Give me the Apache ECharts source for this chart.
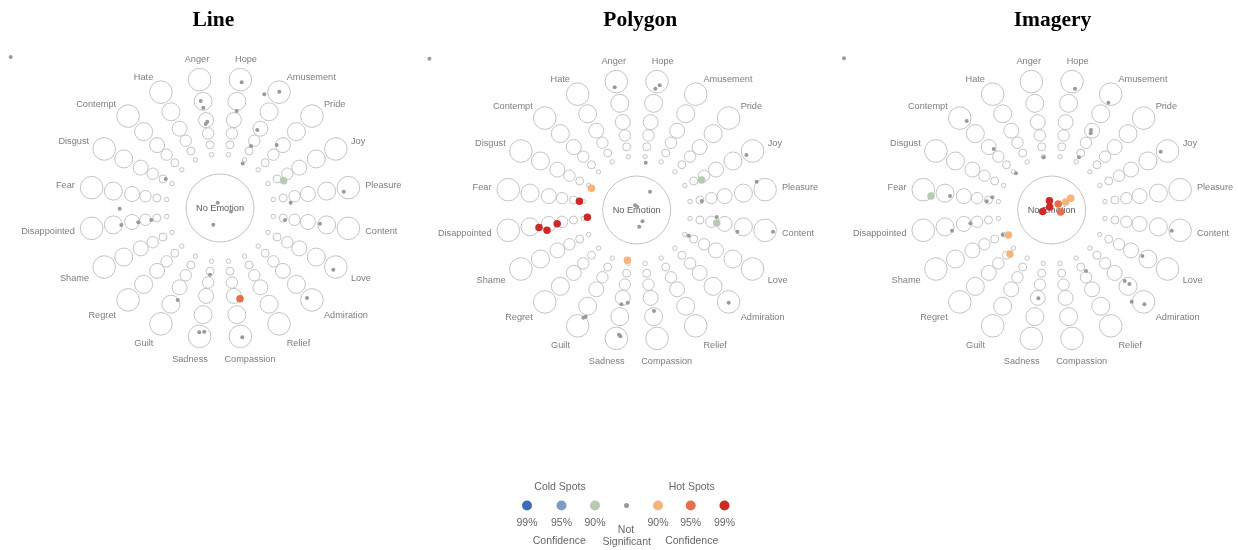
<!DOCTYPE html>
<html>
<head>
<meta charset="utf-8">
<script src="https://cdn.jsdelivr.net/npm/echarts@6/dist/echarts.min.js"></script>
<style>
  html, body { margin: 0; padding: 0; background: #ffffff; }
  #chart { width: 1238px; height: 550px; }
</style>
</head>
<body>
<div id="chart"></div>
<script>
// ---- data -------------------------------------------------------------
const panelTitles = ['Line', 'Polygon', 'Imagery'];

// Emotion families, clockwise from the top of the wheel
const emotions = ['Hope', 'Amusement', 'Pride', 'Joy', 'Pleasure', 'Content', 'Love',
  'Admiration', 'Relief', 'Compassion', 'Sadness', 'Guilt', 'Regret', 'Shame',
  'Disappointed', 'Fear', 'Disgust', 'Contempt', 'Hate', 'Anger'];
const centreLabel = 'No Emotion';

// Significance classes: -3..-1 cold spots, 0 not significant, 1..3 hot spots
const significanceLevels = [-3, -2, -1, 0, 1, 2, 3];
const confidenceLabels = ['99%', '95%', '90%', 'Not Significant', '90%', '95%', '99%'];

// Hot-spot results in wheel coordinates: [x, y, significance]
const lineSpots = [
  [-209.3, 151, 0], [21.7, 125.7, 0], [-19.3, 107, 0], [-16.7, 100.3, 0], [-12.7, 86.3, 0],
  [-14.3, 84, 0], [16.7, 97, 0], [59.3, 116.3, 0], [44.3, 113.7, 0], [37.3, 78, 0],
  [31, 62, 0], [22.7, 44.5, 0], [56.7, 63, 0], [63.7, 27.3, -1], [123.7, 16.3, 0],
  [70.7, 5.3, 0], [65, -12, 0], [100, -15.7, 0], [113.3, -61.7, 0], [87, -90, 0],
  [22.3, -129.3, 0], [20, -90.7, 2], [-20.7, -124.3, 0], [-15.7, -123.7, 0], [-10, -66.7, 0],
  [-42.3, -92, 0], [-98.7, -17, 0], [-81.7, -14.3, 0], [-68.7, -12, 0], [-100.3, -0.7, 0],
  [-54.3, 29, 0], [-2.3, 5.2, 0], [11, -3.5, 0], [-6.7, -16.7, 0]
];
const polygonSpots = [
  [-207.3, 151.3, 0], [-22, 122.7, 0], [18.7, 121.3, 0], [23, 124.7, 0], [9, 47.3, 0],
  [109.7, 55, 0], [65, 30, -1], [120, 28.3, 0], [65, 9, 0], [80, -13, -1],
  [80, -7, 0], [100.7, -21.7, 0], [136.3, -21.7, 0], [52, -25.7, 0], [92, -92.7, 0],
  [17.3, -101, 0], [-15.3, -94.3, 0], [-9, -92.7, 0], [-17.7, -124.7, 0], [-16.3, -126.3, 0],
  [-53.3, -107.7, 0], [-51, -106.7, 0], [-9.3, -50.3, 1], [-45.3, 21.8, 1], [-57.3, 8.8, 3],
  [-49.3, -7.3, 3], [-79.5, -13.8, 3], [-89.7, -20.2, 3], [-97.7, -17.5, 3], [13.3, 18.2, 0],
  [-1.7, 4.7, 0], [0.5, 3.3, 0], [5.8, -11.2, 0], [2.5, -16.8, 0]
];
const imagerySpots = [
  [-207.7, 151.7, 0], [23.3, 121.3, 0], [56.7, 107.3, 0], [39.3, 80, 0], [39, 76.7, 0],
  [27.3, 52.7, 0], [-8, 52.7, 0], [109, 58.3, 0], [-85, 89, 0], [-58, 61, 0],
  [-35.7, 36.7, 0], [-120.7, 14, -1], [-101.7, 14, 0], [-65, 8.7, 0], [-59.3, 12.7, 0],
  [-99.7, -20.7, 0], [-81.3, -13.3, 0], [-49, -24.7, 0], [-43.3, -25, 1], [-41.7, -44, 1],
  [-13.3, -88.3, 0], [34.3, -61, 0], [90.7, -46, 0], [73, -71, 0], [77.7, -74, 0],
  [80, -91.7, 0], [92.7, -94.3, 0], [120, -20.7, 0], [-2.3, 9.3, 3], [-2, 3, 3],
  [-9, -1.5, 3], [6.5, 6, 2], [9, -2, 2], [14, 8, 1], [19, 11.7, 1]
];
const panelSpots = [lineSpots, polygonSpots, imagerySpots];

// ---- layout & style ---------------------------------------------------
const W = 1238;
const panelCentres = [[220, 208], [636.7, 210], [1051.7, 210]];
const titleX = [213.3, 640.3, 1052.5];
const X_MIN = -215, X_MAX = 185, Y_MIN = -160, Y_MAX = 160;

const ringDist = [54, 64, 75.5, 89, 108, 130];   // distance of each intensity ring from the centre
const ringRadius = [2.2, 4, 5.7, 7.5, 9, 11.3];  // radius of each intensity ring
const coreRadius = 34;
const labelDist = 147;

const sigColour = { '-3': '#3e6cb4', '-2': '#7d9cc1', '-1': '#b8c9b4', '0': '#9a9a9a',
  '1': '#f6b47c', '2': '#ea6d4b', '3': '#cb2a27' };
const SANS = '"Liberation Sans", Arial, sans-serif';
const LABEL_COLOUR = '#5b5b5b';
const RING_COLOUR = '#c4c4c4';

function spokeAngle(i) { return (9 + 18 * i) * Math.PI / 180; }

function wheelData() {
  const out = [];
  emotions.forEach((e, i) => {
    const a = spokeAngle(i);
    ringDist.forEach((d, j) => {
      out.push([d * Math.sin(a), d * Math.cos(a), ringRadius[j] * 2]);
    });
  });
  out.push({ value: [0, 0, coreRadius * 2], label: { show: true, formatter: centreLabel } });
  return out;
}

function labelData() {
  return emotions.map((e, i) => {
    const a = spokeAngle(i);
    const s = Math.sin(a), c = Math.cos(a);
    const align = s > 0.3 ? 'left' : (s < -0.3 ? 'right' : 'center');
    let dx = 0, dy = 0;
    if (align === 'center') {
      if (c > 0) { dy = -3; dx = s > 0 ? 3 : 0; }
      else { dy = 6; dx = s > 0 ? 7 : -7; }
    } else if (c < -0.3) {
      dy = 4;
    }
    return { name: e, value: [labelDist * s, labelDist * c],
      label: { align: align, offset: [dx, dy] } };
  });
}

const grids = [], xAxes = [], yAxes = [], series = [];
panelCentres.forEach(([cx, cy], p) => {
  grids.push({ left: cx + X_MIN, top: cy - Y_MAX, width: X_MAX - X_MIN, height: Y_MAX - Y_MIN,
    containLabel: false });
  xAxes.push({ gridIndex: p, type: 'value', min: X_MIN, max: X_MAX, show: false });
  yAxes.push({ gridIndex: p, type: 'value', min: Y_MIN, max: Y_MAX, show: false });

  // intensity rings and the central "No Emotion" circle
  series.push({
    type: 'scatter', xAxisIndex: p, yAxisIndex: p, silent: true, clip: false, z: 1,
    data: wheelData(),
    symbol: 'circle',
    symbolSize: v => v[2],
    itemStyle: { color: 'rgba(255,255,255,0)', borderColor: RING_COLOUR, borderWidth: 1, opacity: 1 },
    label: { show: false, position: 'inside', color: LABEL_COLOUR, fontSize: 9.2, fontFamily: SANS },
    emphasis: { disabled: true }
  });

  // emotion names
  series.push({
    type: 'scatter', xAxisIndex: p, yAxisIndex: p, silent: true, clip: false, z: 2,
    data: labelData(),
    symbolSize: 1,
    itemStyle: { color: 'rgba(0,0,0,0)' },
    label: { show: true, position: 'inside', formatter: '{b}', verticalAlign: 'middle',
      color: LABEL_COLOUR, fontSize: 9.2, fontFamily: SANS },
    emphasis: { disabled: true }
  });

  // hot-spot results, significant ones drawn on top
  const spots = panelSpots[p].slice().sort((a, b) => Math.abs(a[2]) - Math.abs(b[2]));
  series.push({
    type: 'scatter', xAxisIndex: p, yAxisIndex: p, silent: true, clip: false, z: 3,
    data: spots,
    symbol: 'circle',
    symbolSize: v => (v[2] === 0 ? 4 : 7.5),
    itemStyle: { color: params => sigColour[String(params.value[2])], opacity: 1 },
    emphasis: { disabled: true }
  });
});

// ---- titles and significance key ---------------------------------------
const graphics = [];
panelTitles.forEach((t, p) => {
  graphics.push({ type: 'text', x: titleX[p], y: 20,
    style: { text: t, font: 'bold 21.5px "Liberation Serif", "Times New Roman", serif', fill: '#000',
      align: 'center', verticalAlign: 'middle', textAlign: 'center', textVerticalAlign: 'middle' } });
});

const keyX = [527, 561.5, 595, 626.5, 658, 690.7, 724.5];
const keyY = 505.5;
function keyText(text, x, y) {
  return { type: 'text', x: x, y: y,
    style: { text: text, font: '10.5px ' + SANS, fill: '#666666',
      align: 'center', verticalAlign: 'middle', textAlign: 'center', textVerticalAlign: 'middle' } };
}
significanceLevels.forEach((lvl, k) => {
  graphics.push({ type: 'circle', shape: { cx: keyX[k], cy: keyY, r: lvl === 0 ? 2.5 : 5 },
    style: { fill: sigColour[String(lvl)] } });
  if (lvl !== 0) graphics.push(keyText(confidenceLabels[k], keyX[k], 523.3));
});
graphics.push(keyText('Cold Spots', 560, 487.3));
graphics.push(keyText('Hot Spots', 691.7, 487.3));
graphics.push(keyText('Not', 626, 530));
graphics.push(keyText('Significant', 626.7, 541.7));
graphics.push(keyText('Confidence', 559.3, 541.3));
graphics.push(keyText('Confidence', 691.7, 541.3));

const chart = echarts.init(document.getElementById('chart'), null, { renderer: 'canvas' });
chart.setOption({
  backgroundColor: '#ffffff',
  animation: false,
  grid: grids,
  xAxis: xAxes,
  yAxis: yAxes,
  series: series,
  graphic: { elements: graphics }
});
</script>
</body>
</html>
